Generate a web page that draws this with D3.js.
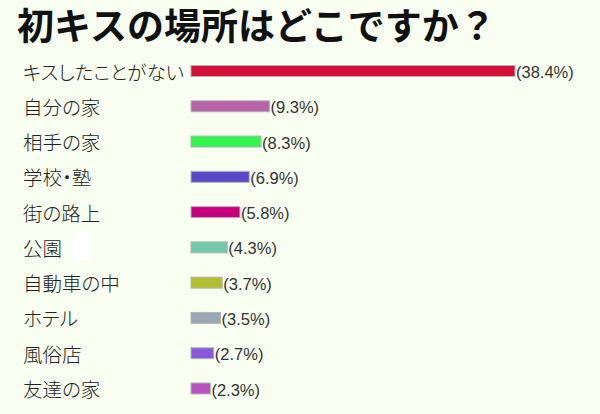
<!DOCTYPE html>
<html>
<head>
<meta charset="utf-8">
<script src="https://cdn.jsdelivr.net/npm/d3@7"></script>
<style>
	html, body { margin: 0; padding: 0; background: #f8fff0; }
	svg { display: block; }
</style>
</head>
<body>
<div id="chart"></div>
<script>
var title = "初キスの場所はどこですか？";
var places = ["キスしたことがない", "自分の家", "相手の家", "学校・塾", "街の路上", "公園", "自動車の中", "ホテル", "風俗店", "友達の家"];
var percents = [38.4, 9.3, 8.3, 6.9, 5.8, 4.3, 3.7, 3.5, 2.7, 2.3];
var barColors = ["#d4103a", "#b864a8", "#33f54f", "#5a48c8", "#c8007f", "#72c8a8", "#b0c030", "#98a8b4", "#8858d8", "#b850c0"];

var width = 600, height = 414;

var svg = d3.select("#chart").append("svg")
	.attr("width", width)
	.attr("height", height);

svg.append("rect")
	.attr("width", width)
	.attr("height", height)
	.attr("fill", "#f8fff0");

var rows = places.map(function(d, i){
	return { place: d, pct: percents[i], color: barColors[i] };
});

// 38.4% reaches about x=515
var xscale = d3.scaleLinear().domain([0, 38.4]).range([191, 515]);
var yscale = d3.scalePoint().domain(places).range([71, 388.5]);
var barH = 11;

svg.append("text")
	.attr("x", 17)
	.attr("y", 40)
	.attr("font-family", "'Noto Sans CJK JP', sans-serif")
	.attr("font-weight", "bold")
	.attr("font-size", 37)
	.attr("fill", "#111")
	.text(title);

// small white patch beside 公園
svg.append("rect")
	.attr("x", 73)
	.attr("y", yscale("公園") - 15)
	.attr("width", 19)
	.attr("height", 28)
	.attr("fill", "#ffffff");

var row = svg.selectAll(".row").data(rows)
	.enter().append("g")
		.attr("class", "row")
		.attr("transform", function(d){ return "translate(0," + yscale(d.place) + ")"; });

row.append("text")
	.attr("x", 23)
	.attr("y", 0)
	.attr("dominant-baseline", "central")
	.attr("font-family", "'Noto Sans CJK JP', sans-serif")
	.attr("font-weight", 300)
	.attr("font-size", 19.5)
	.style("font-feature-settings", "'palt'")
	.attr("fill", "#222")
	.text(function(d){ return d.place; });

row.append("rect")
	.attr("x", xscale(0))
	.attr("y", -barH / 2)
	.attr("width", function(d){ return xscale(d.pct) - xscale(0); })
	.attr("height", barH)
	.attr("fill", function(d){ return d.color; })
	.attr("stroke", "#b4b4b4")
	.attr("stroke-width", 1);

row.append("text")
	.attr("x", function(d){ return xscale(d.pct) + 1; })
	.attr("y", 1)
	.attr("dominant-baseline", "central")
	.attr("font-family", "'Liberation Sans', sans-serif")
	.attr("font-size", 16.5)
	.attr("fill", "#333")
	.text(function(d){ return "(" + d.pct + "%)"; });
</script>
</body>
</html>
